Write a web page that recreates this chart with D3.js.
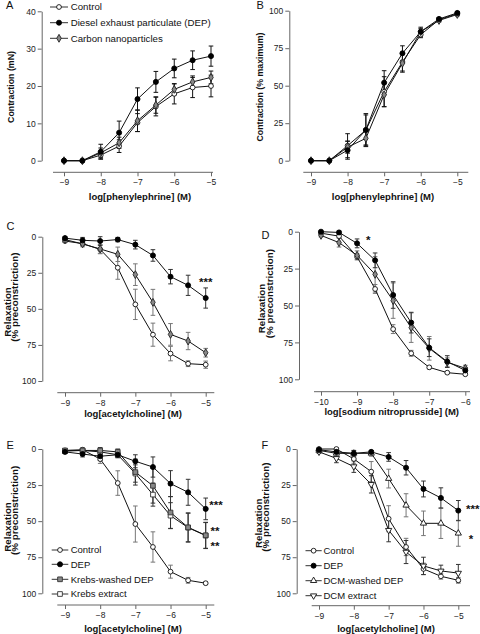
<!DOCTYPE html>
<html><head><meta charset="utf-8">
<script src="https://cdn.jsdelivr.net/npm/d3@7"></script>
<style>body{margin:0;background:#fff}svg{display:block;font-family:"Liberation Sans",Arial,Helvetica,sans-serif}</style>
</head><body><svg id="c" width="480" height="634"></svg>
<script>
// ---------- DATA ----------
const logPE = [-9, -8.5, -8, -7.5, -7, -6.5, -6, -5.5, -5];
const logACh = [-9, -8.5, -8, -7.5, -7, -6.5, -6, -5.5, -5];
const logSNP = [-10, -9.5, -9, -8.5, -8, -7.5, -7, -6.5, -6];
const xTicksPE = [-9, -8, -7, -6, -5];
const xTicksACh = [-9, -8, -7, -6, -5];
const xTicksSNP = [-10, -9, -8, -7, -6];
const yTicksA = [0, 10, 20, 30, 40];
const yTicksPct = [0, 25, 50, 75, 100];

// Panel A (mN)
const aControl = [0, 0, 1.5, 3.9, 10.2, 14.5, 17.9, 19.6, 20.0];
const aControlErr = [0, 0, 1, 1.7, 2.4, 2.5, 2.7, 2.7, 2.9];
const aDEP = [0, 0, 2.4, 7.5, 16.5, 21.1, 24.7, 26.9, 28.0];
const aDEPErr = [0, 0, 2, 3.1, 3, 2.8, 2.5, 2.5, 2.7];
const aCarbon = [0, 0, 2.1, 4.8, 10.7, 14.9, 19.1, 21.1, 22.3];
const aCarbonErr = [0, 0, 1.3, 1.5, 2.9, 2.2, 1.5, 1.6, 1.7];

// Panel B (% maximum)
const bControl = [0, 0, 10, 20.4, 46, 65.8, 84, 94, 98];
const bControlErr = [0, 0, 8, 11, 10, 6, 2, 1, 1];
const bDEP = [0, 0, 7, 20.5, 52, 71.6, 86, 94.5, 98.5];
const bDEPErr = [0, 0, 6, 10, 8, 5, 2, 1, 1];
const bCarbon = [0, 0, 9, 14.9, 44, 65, 86, 93.5, 97.5];
const bCarbonErr = [0, 0, 4, 5, 8, 6, 3, 1, 1];

// Panel C (% preconstriction)
const cControl = [3, 4.8, 8.8, 21.5, 46.9, 67.9, 81, 88, 88.7];
const cControlErr = [1, 1.5, 3, 8, 10.5, 8, 5, 2, 2.5];
const cDEP = [1, 2.5, 3, 2, 5.5, 13, 27.7, 33.7, 42.5];
const cDEPErr = [1, 2, 3, 1.5, 3, 4, 5, 7, 7];
const cCarbon = [2, 5, 8.5, 12.2, 26.3, 45.5, 67.7, 72.3, 80.4];
const cCarbonErr = [1, 2, 3, 5, 7.5, 9, 7.5, 6, 3];

// Panel D
const dControl = [1, 3, 17, 38.8, 66, 82.4, 91.9, 95.5, 96.6];
const dControlErr = [1, 1, 2, 3, 3, 2, 1, 0.5, 0.5];
const dDEP = [0, 0.5, 7.9, 19.4, 42.9, 61.6, 78.6, 88, 94];
const dDEPErr = [0.5, 1, 3, 5, 9, 7, 6, 4, 2];
const dCarbon = [2.5, 7.4, 16, 28.9, 46.7, 65, 79, 88.5, 92.5];
const dCarbonErr = [1, 3, 3, 12, 12, 10, 8, 3, 2];

// Panel E
const eControl = [1, 0.5, 7, 23.6, 52, 67.9, 85, 91, 93];
const eControlErr = [1, 1, 3, 8.5, 12.5, 10.5, 4.5, 2, 1];
const eDEP = [2, 3.5, 5, 4, 8.5, 12.5, 24, 30, 41.5];
const eDEPErr = [1, 2, 3, 2, 4.5, 7, 9, 9, 7.5];
const eKrebsWashed = [1, 1, 1, 2, 16, 25.5, 44, 54.3, 59.8];
const eKrebsWashedErr = [1, 1, 2, 2, 9, 12, 11, 10, 9];
const eKrebsExtract = [1.5, 1, 2, 4, 17, 31.6, 46.2, 54.5, 60];
const eKrebsExtractErr = [1, 1, 2, 2, 6, 8, 9, 10, 9];

// Panel F
const fControl = [0, 0, 6.9, 15.7, 48.3, 67.9, 83.1, 88.2, 91];
const fControlErr = [1, 1, 3, 7, 9, 6, 4, 2, 2];
const fDEP = [0.5, 2, 3, 2, 5.5, 13, 27.7, 33.9, 42.7];
const fDEPErr = [1, 1, 2, 1, 3, 5, 5.5, 7, 7];
const fDCMWashed = [1, 3, 3, 3, 20.5, 39, 51.5, 51.5, 58.4];
const fDCMWashedErr = [1, 2, 2, 2, 6.5, 8, 8.5, 10.5, 9];
const fDCMExtract = [2, 6.5, 12.2, 24.5, 56.3, 71.4, 81, 84.5, 86];
const fDCMExtractErr = [1, 3, 4, 6, 8, 8, 6, 4, 6];

// Legends
const legendA = ["Control", "Diesel exhaust particulate (DEP)", "Carbon nanoparticles"];
const legendE = ["Control", "DEP", "Krebs-washed DEP", "Krebs extract"];
const legendF = ["Control", "DEP", "DCM-washed DEP", "DCM extract"];

// Significance marks [text, x, y]
const starsC = [["***", -5.19, 30]];
const starsD = [["*", -8.75, 4.5]];
const starsE = [["***", -4.9, 37.4], ["**", -4.86, 55.4], ["**", -4.86, 65.8]];
const starsF = [["***", -4.78, 40.2], ["*", -4.7, 61]];

// ---------- STYLES ----------
const axisColor = "#666";
const styles = {
  control: {sym: d3.symbolCircle, size: 18, fill: "#fff", stroke: "#111", rot: 0},
  dep: {sym: d3.symbolCircle, size: 20, fill: "#000", stroke: "#000", rot: 0},
  carbon: {sym: d3.symbolDiamond, size: 18, fill: "#888", stroke: "#222", rot: 0},
  krebsWashed: {sym: d3.symbolSquare, size: 22, fill: "#888", stroke: "#333", rot: 0},
  krebsExtract: {sym: d3.symbolSquare, size: 22, fill: "#fff", stroke: "#333", rot: 0},
  dcmWashed: {sym: d3.symbolTriangle, size: 17, fill: "#fff", stroke: "#111", rot: 0},
  dcmExtract: {sym: d3.symbolTriangle, size: 17, fill: "#fff", stroke: "#111", rot: 180}
};

const svg = d3.select("#c");

function marker(sel, st, cx, cy) {
  sel.append("path")
    .attr("d", d3.symbol().type(st.sym).size(st.size)())
    .attr("transform", `translate(${cx},${cy}) rotate(${st.rot})`)
    .attr("fill", st.fill).attr("stroke", st.stroke).attr("stroke-width", 0.9);
}

function drawPanel(p) {
  const g = svg.append("g");
  const x = d3.scaleLinear().domain(p.xDomain).range(p.xRange);
  const y = d3.scaleLinear().domain(p.yDomain).range(p.yRange);

  const ya = g.append("g").attr("transform", `translate(${p.yAxisX},0)`)
    .call(d3.axisLeft(y).tickValues(p.yTicks).tickSize(4).tickSizeOuter(0).tickPadding(2));
  const xa = g.append("g").attr("transform", `translate(0,${p.xAxisY})`)
    .call(d3.axisBottom(x).tickValues(p.xTicks).tickSize(4).tickSizeOuter(0).tickPadding(3).tickFormat(d3.format("d")));
  xa.select(".domain").remove();
  xa.append("line").attr("x1", p.xLine[0]).attr("x2", p.xLine[1]).attr("stroke", axisColor);
  [ya, xa].forEach(a => {
    a.selectAll(".domain, .tick line").attr("stroke", axisColor);
    a.selectAll(".tick text").attr("font-size", 8.5).attr("fill", "#222")
      .attr("font-family", '"Liberation Sans",Arial,sans-serif');
  });

  // panel letter
  g.append("text").attr("x", p.letterPos[0]).attr("y", p.letterPos[1])
    .attr("font-size", 11).attr("fill", "#111").text(p.letter);

  // x title
  g.append("text").attr("x", p.xTitlePos[0]).attr("y", p.xTitlePos[1])
    .attr("text-anchor", "middle").attr("font-size", 9.5).attr("font-weight", "bold")
    .attr("fill", "#111").text(p.xTitle);
  // y titles
  p.yTitles.forEach(t => {
    g.append("text").attr("transform", `translate(${t.x},${t.y}) rotate(-90)`)
      .attr("text-anchor", t.anchor).attr("font-size", t.size).attr("font-weight", "bold")
      .attr("fill", "#111").text(t.text);
  });

  const series = p.series.map(s => ({
    st: styles[s.key], errColor: s.errColor,
    pts: p.xs.map((xv, i) => ({x: xv, y: s.values[i], e: s.errors[i]}))
  }));
  // error bars
  series.forEach(s => {
    const eg = g.append("g").attr("stroke", s.errColor).attr("stroke-width", 1).attr("fill", "none");
    s.pts.filter(d => d.e > 0).forEach(d => {
      const x0 = x(d.x), y1 = y(d.y - d.e), y2 = y(d.y + d.e);
      eg.append("line").attr("x1", x0).attr("x2", x0).attr("y1", y1).attr("y2", y2);
      eg.append("line").attr("x1", x0 - 2.3).attr("x2", x0 + 2.3).attr("y1", y1).attr("y2", y1);
      eg.append("line").attr("x1", x0 - 2.3).attr("x2", x0 + 2.3).attr("y1", y2).attr("y2", y2);
    });
  });
  // lines
  const line = d3.line().x(d => x(d.x)).y(d => y(d.y));
  series.forEach(s => {
    g.append("path").attr("d", line(s.pts)).attr("fill", "none")
      .attr("stroke", "#111").attr("stroke-width", 1);
  });
  // markers
  series.forEach(s => {
    s.pts.forEach(d => marker(g, s.st, x(d.x), y(d.y)));
  });

  // stars
  (p.stars || []).forEach(s => {
    g.append("text").attr("x", x(s[1])).attr("y", y(s[2])).attr("dy", "0.5em")
      .attr("font-size", 11.5).attr("font-weight", "bold").attr("fill", "#111").text(s[0]);
  });

  // legend
  if (p.legend) {
    const L = p.legend;
    L.labels.forEach((lab, i) => {
      const ry = L.rows[i];
      g.append("line").attr("x1", L.x0).attr("x2", L.x1).attr("y1", ry).attr("y2", ry)
        .attr("stroke", "#333").attr("stroke-width", 1);
      marker(g, styles[L.keys[i]], (L.x0 + L.x1) / 2, ry);
      g.append("text").attr("x", L.tx).attr("y", ry).attr("dy", "0.35em")
        .attr("font-size", L.size).attr("fill", "#111").text(lab);
    });
  }
}

// Panel A
drawPanel({
  letter: "A", letterPos: [6, 9],
  xs: logPE, xDomain: [-9, -5], xRange: [64, 211], yDomain: [0, 40], yRange: [160.7, 11.3],
  yAxisX: 41.7, xAxisY: 172.3, xLine: [53, 213], xTicks: xTicksPE, yTicks: yTicksA,
  xTitle: "log[phenylephrine] (M)", xTitlePos: [140, 200],
  yTitles: [{text: "Contraction (mN)", x: 14, y: 87, anchor: "middle", size: 8.8}],
  series: [
    {key: "control", values: aControl, errors: aControlErr, errColor: "#111"},
    {key: "carbon", values: aCarbon, errors: aCarbonErr, errColor: "#111"},
    {key: "dep", values: aDEP, errors: aDEPErr, errColor: "#111"}
  ],
  legend: {labels: legendA, keys: ["control", "dep", "carbon"], rows: [7, 22.7, 38.3], x0: 50, x1: 68, tx: 70.7, size: 9.7}
});

// Panel B
drawPanel({
  letter: "B", letterPos: [256.5, 9],
  xs: logPE, xDomain: [-9, -5], xRange: [311, 457.3], yDomain: [0, 100], yRange: [160.7, 10.7],
  yAxisX: 289.3, xAxisY: 172.3, xLine: [303.3, 468.3], xTicks: xTicksPE, yTicks: yTicksPct,
  xTitle: "log[phenylephrine] (M)", xTitlePos: [383, 200],
  yTitles: [{text: "Contraction (% maximum)", x: 263, y: 87, anchor: "middle", size: 8.8}],
  series: [
    {key: "control", values: bControl, errors: bControlErr, errColor: "#111"},
    {key: "carbon", values: bCarbon, errors: bCarbonErr, errColor: "#111"},
    {key: "dep", values: bDEP, errors: bDEPErr, errColor: "#111"}
  ]
});

// Panel C
drawPanel({
  letter: "C", letterPos: [6.5, 230],
  xs: logACh, xDomain: [-9, -5], xRange: [65, 205.7], yDomain: [0, 100], yRange: [236.7, 381],
  yAxisX: 42.3, xAxisY: 392.7, xLine: [57.3, 214.3], xTicks: xTicksACh, yTicks: yTicksPct,
  xTitle: "log[acetylcholine] (M)", xTitlePos: [133, 417],
  yTitles: [
    {text: "Relaxation", x: 10.5, y: 336.7, anchor: "start", size: 9.8},
    {text: "(% preconstriction)", x: 18, y: 341.7, anchor: "start", size: 9.8}
  ],
  series: [
    {key: "control", values: cControl, errors: cControlErr, errColor: "#777"},
    {key: "carbon", values: cCarbon, errors: cCarbonErr, errColor: "#777"},
    {key: "dep", values: cDEP, errors: cDEPErr, errColor: "#333"}
  ],
  stars: starsC
});

// Panel D
drawPanel({
  letter: "D", letterPos: [261.5, 238.5],
  xs: logSNP, xDomain: [-10, -6], xRange: [321, 465.3], yDomain: [0, 100], yRange: [231.7, 379.3],
  yAxisX: 299, xAxisY: 391.7, xLine: [314, 470], xTicks: xTicksSNP, yTicks: yTicksPct,
  xTitle: "log[sodium nitroprusside] (M)", xTitlePos: [391.7, 414.5],
  yTitles: [
    {text: "Relaxation", x: 265, y: 333.3, anchor: "start", size: 9.8},
    {text: "(% preconstriction)", x: 272.5, y: 338.3, anchor: "start", size: 9.8}
  ],
  series: [
    {key: "control", values: dControl, errors: dControlErr, errColor: "#777"},
    {key: "carbon", values: dCarbon, errors: dCarbonErr, errColor: "#777"},
    {key: "dep", values: dDEP, errors: dDEPErr, errColor: "#333"}
  ],
  stars: starsD
});

// Panel E
drawPanel({
  letter: "E", letterPos: [6.5, 449],
  xs: logACh, xDomain: [-9, -5], xRange: [65, 205.7], yDomain: [0, 100], yRange: [449, 593.3],
  yAxisX: 42.3, xAxisY: 605, xLine: [57.3, 214.3], xTicks: xTicksACh, yTicks: yTicksPct,
  xTitle: "log[acetylcholine] (M)", xTitlePos: [133, 632],
  yTitles: [
    {text: "Relaxation", x: 11, y: 551.7, anchor: "start", size: 9.8},
    {text: "(% preconstriction)", x: 18, y: 555, anchor: "start", size: 9.8}
  ],
  series: [
    {key: "control", values: eControl, errors: eControlErr, errColor: "#777"},
    {key: "krebsExtract", values: eKrebsExtract, errors: eKrebsExtractErr, errColor: "#333"},
    {key: "krebsWashed", values: eKrebsWashed, errors: eKrebsWashedErr, errColor: "#333"},
    {key: "dep", values: eDEP, errors: eDEPErr, errColor: "#333"}
  ],
  stars: starsE,
  legend: {labels: legendE, keys: ["control", "dep", "krebsWashed", "krebsExtract"], rows: [550, 564.3, 579.3, 594], x0: 51.7, x1: 68.3, tx: 70.7, size: 9.5}
});

// Panel F
drawPanel({
  letter: "F", letterPos: [261.5, 449],
  xs: logACh, xDomain: [-9, -5], xRange: [319, 458.3], yDomain: [0, 100], yRange: [449, 593.3],
  yAxisX: 296.7, xAxisY: 605.7, xLine: [311.7, 470], xTicks: xTicksACh, yTicks: yTicksPct,
  xTitle: "log[acetylcholine] (M)", xTitlePos: [386, 632],
  yTitles: [
    {text: "Relaxation", x: 261.5, y: 548, anchor: "start", size: 9.8},
    {text: "(% preconstriction)", x: 268.5, y: 551.7, anchor: "start", size: 9.8}
  ],
  series: [
    {key: "control", values: fControl, errors: fControlErr, errColor: "#777"},
    {key: "dcmExtract", values: fDCMExtract, errors: fDCMExtractErr, errColor: "#333"},
    {key: "dcmWashed", values: fDCMWashed, errors: fDCMWashedErr, errColor: "#777"},
    {key: "dep", values: fDEP, errors: fDEPErr, errColor: "#333"}
  ],
  stars: starsF,
  legend: {labels: legendF, keys: ["control", "dep", "dcmWashed", "dcmExtract"], rows: [550.7, 565.7, 580.7, 595.7], x0: 305.5, x1: 321.7, tx: 323.5, size: 9.5}
});
</script></body></html>
